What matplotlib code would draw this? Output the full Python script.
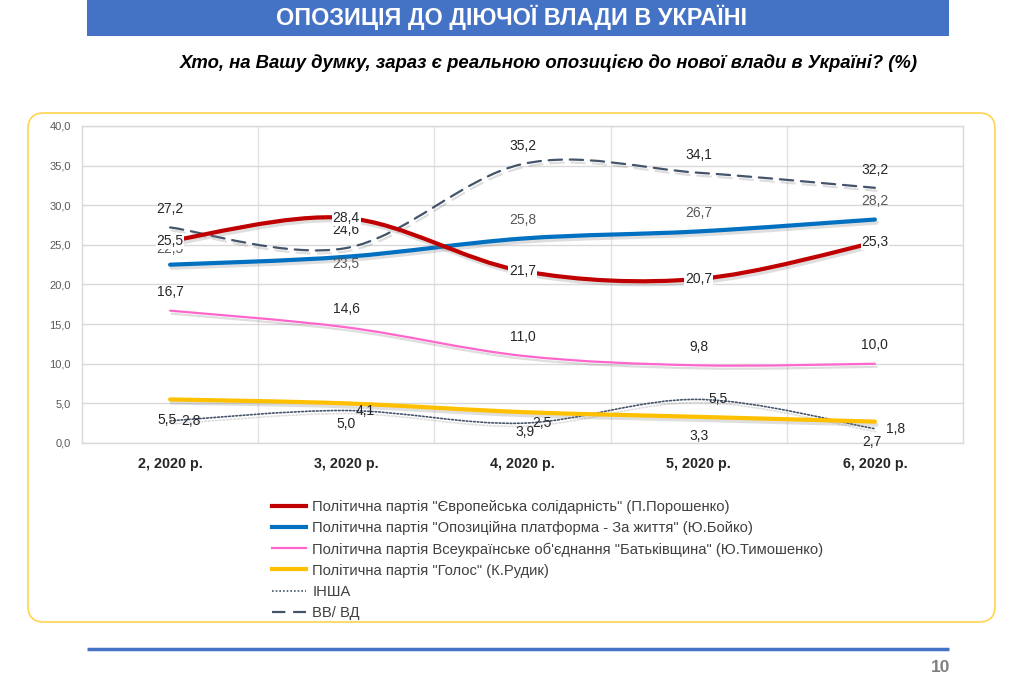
import matplotlib.pyplot as plt
import matplotlib.patheffects as pe
from matplotlib.path import Path
from matplotlib.patches import PathPatch, FancyBboxPatch, Rectangle
from matplotlib.lines import Line2D

plt.rcParams['font.family'] = ['Liberation Sans', 'DejaVu Sans']

months = ["2, 2020 р.", "3, 2020 р.", "4, 2020 р.", "5, 2020 р.", "6, 2020 р."]

es_values = [25.5, 28.4, 21.7, 20.7, 25.3]       # Європейська солідарність
opzzh_values = [22.5, 23.5, 25.8, 26.7, 28.2]    # ОПЗЖ
batk_values = [16.7, 14.6, 11.0, 9.8, 10.0]      # Батьківщина
holos_values = [5.5, 5.0, 3.9, 3.3, 2.7]         # Голос
other_values = [2.8, 4.1, 2.5, 5.5, 1.8]         # ІНША
dk_values = [27.2, 24.6, 35.2, 34.1, 32.2]       # ВВ/ВД

series_names = [
    'Політична партія "Європейська солідарність" (П.Порошенко)',
    'Політична партія "Опозиційна платформа - За життя" (Ю.Бойко)',
    'Політична партія Всеукраїнське об\'єднання "Батьківщина" (Ю.Тимошенко)',
    'Політична партія "Голос" (К.Рудик)',
    'ІНША',
    'ВВ/ ВД',
]

title = "ОПОЗИЦІЯ ДО ДІЮЧОЇ ВЛАДИ В УКРАЇНІ"
subtitle = "Хто, на Вашу думку, зараз є реальною опозицією до нової влади в Україні? (%)"


def smooth_path(xs, ys):
    """Excel-like smoothed line: cubic Bezier segments through the data points."""
    pts = list(zip(xs, ys))
    verts = [pts[0]]
    codes = [Path.MOVETO]
    n = len(pts)
    for i in range(n - 1):
        p0 = pts[i - 1] if i > 0 else pts[i]
        p1 = pts[i]
        p2 = pts[i + 1]
        p3 = pts[i + 2] if i + 2 < n else pts[i + 1]
        c1 = (p1[0] + (p2[0] - p0[0]) / 6, p1[1] + (p2[1] - p0[1]) / 6)
        c2 = (p2[0] - (p3[0] - p1[0]) / 6, p2[1] - (p3[1] - p1[1]) / 6)
        verts += [c1, c2, p2]
        codes += [Path.CURVE4] * 3
    return Path(verts, codes)


fig = plt.figure(figsize=(10.24, 6.84), dpi=100)

# decoration layer in pixel coordinates
bg = fig.add_axes([0, 0, 1, 1], zorder=-1)
bg.set_xlim(0, 1024)
bg.set_ylim(684, 0)
bg.axis("off")
bg.add_patch(Rectangle((87, -2), 862, 38, color="#4472C4", lw=0))
bg.text(512, 17, title, color="white", fontsize=16.8, fontweight="bold",
        ha="center", va="center")
bg.text(549, 63, subtitle, fontsize=13.3, fontweight="bold", style="italic",
        ha="center", va="center", color="#000000")
bg.add_patch(FancyBboxPatch((28, 113), 967, 509, boxstyle="round,pad=0,rounding_size=16",
                            fc="none", ec="#FFD44F", lw=1.2))
bg.plot([87, 949], [649, 649], color="#4472C4", lw=2.5, solid_capstyle="butt")
bg.text(950, 668, "10", color="#7F7F7F", fontsize=12.5, fontweight="bold",
        ha="right", va="center")

ax = fig.add_axes([82 / 1024, 241 / 684, 881 / 1024, 317 / 684])
x = list(range(len(months)))
ax.set_xlim(-0.5, len(months) - 0.5)
ax.set_ylim(0, 40)
ax.set_yticks([0, 5, 10, 15, 20, 25, 30, 35, 40])
ax.set_yticklabels([f"{v:.1f}".replace(".", ",") for v in ax.get_yticks()],
                   fontsize=8, color="#595959")
ax.set_xticks(x)
ax.set_xticklabels(months, fontsize=10.3, fontweight="bold", color="#262626")
ax.set_xticks([i + 0.5 for i in x[:-1]], minor=True)
ax.tick_params(axis="both", which="both", length=0)
ax.tick_params(axis="y", pad=8)
ax.tick_params(axis="x", pad=10)
ax.grid(True, axis="y", color="#D9D9D9", lw=1)
ax.grid(True, axis="x", which="minor", color="#E3E3E3", lw=1)
ax.set_axisbelow(True)
for s in ax.spines.values():
    s.set_color("#D9D9D9")
    s.set_linewidth(1)

shadow = [pe.SimpleLineShadow(offset=(1.2, -2.2), shadow_color="#7F7F7F", alpha=0.25), pe.Normal()]

styles = [
    dict(color="#C00000", lw=3.0, ls="-"),
    dict(color="#0070C0", lw=3.0, ls="-"),
    dict(color="#FF66CC", lw=1.6, ls="-"),
    dict(color="#FFC000", lw=3.0, ls="-"),
    dict(color="#44546A", lw=1.2, ls=(0, (1, 1.2))),
    dict(color="#44546A", lw=1.6, ls=(0, (6, 3.5))),
]
all_values = [es_values, opzzh_values, batk_values, holos_values, other_values, dk_values]
for k in [5, 4, 3, 2, 1, 0]:
    st = styles[k]
    patch = PathPatch(smooth_path(x, all_values[k]), fc="none", ec=st["color"],
                      lw=st["lw"], ls=st["ls"], capstyle="round", zorder=3 + (6 - k) * 0.1)
    patch.set_path_effects(shadow)
    ax.add_patch(patch)

fmt = lambda v: f"{v:.1f}".replace(".", ",")

# data labels: (dx, dy) in points
label_offsets = [
    [(0, 0)] * 5,
    [(0, 11.5), (0, -5), (0, 13.5), (0, 13), (0, 13.5)],
    [(0, 13.5)] * 5,
    [(-2, -14.5), (0, -14.5), (2, -14.5), (0, -14), (-2, -14.5)],
    [(8, 0), (7, 0), (7, 0), (7, 0), (8, 0)],
    [(0, 13)] * 5,
]
label_colors = ["#262626", "#595959", "#262626", "#262626", "#262626", "#262626"]
for k in [5, 4, 3, 2, 1, 0]:
    vals = all_values[k]
    for i, v in enumerate(vals):
        dx, dy = label_offsets[k][i]
        kw = {}
        if k == 0:
            kw["bbox"] = dict(boxstyle="square,pad=0.05", fc="white", ec="none")
        ax.annotate(fmt(v), (x[i], v), xytext=(dx, dy), textcoords="offset points",
                    ha="left" if k == 4 else "center", va="center", fontsize=10,
                    color=label_colors[k], zorder=6, **kw)

handles = [Line2D([], [], color=st["color"], lw=st["lw"], ls=st["ls"]) for st in styles]
fig.legend(handles, series_names, loc="upper left", bbox_to_anchor=(272 / 1024, 1 - 500 / 684),
           frameon=False, fontsize=10.6, handlelength=2.3, handletextpad=0.45,
           labelspacing=0.48, borderpad=0, borderaxespad=0, labelcolor="#404040")

fig.savefig("out.png", dpi=100)
